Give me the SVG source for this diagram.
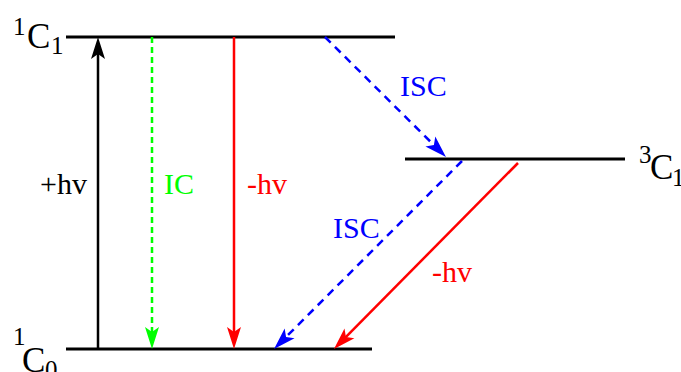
<svg xmlns="http://www.w3.org/2000/svg" width="681" height="372" viewBox="0 0 681 372">
<style>
.lvl{stroke:#000;stroke-width:3;fill:none}
.t{font-family:"Liberation Serif","Times New Roman",serif}
.lbl{font-size:30px}
.big{font-size:35px}
.sup{font-size:25px}
.ar{stroke-width:2.5;fill:none}
</style>
<defs>
<marker id="mk" markerUnits="userSpaceOnUse" orient="auto" refX="0" refY="0" markerWidth="40" markerHeight="40" viewBox="-20 -10 40 20" overflow="visible"><path d="M8,0 L-14,-7 L-9,0 L-14,7 Z" fill="#000"/></marker>
<marker id="mr" markerUnits="userSpaceOnUse" orient="auto" refX="0" refY="0" markerWidth="40" markerHeight="40" viewBox="-20 -10 40 20" overflow="visible"><path d="M8,0 L-14,-7 L-9,0 L-14,7 Z" fill="#f00"/></marker>
<marker id="mg" markerUnits="userSpaceOnUse" orient="auto" refX="0" refY="0" markerWidth="40" markerHeight="40" viewBox="-20 -10 40 20" overflow="visible"><path d="M8,0 L-14,-7 L-9,0 L-14,7 Z" fill="#0f0"/></marker>
<marker id="mb" markerUnits="userSpaceOnUse" orient="auto" refX="0" refY="0" markerWidth="40" markerHeight="40" viewBox="-20 -10 40 20" overflow="visible"><path d="M8,0 L-14,-7 L-9,0 L-14,7 Z" fill="#00f"/></marker>
</defs>
<g id="S1">
<line class="lvl" x1="66" y1="37" x2="395" y2="37"/>
<text class="t" x="13" y="35" font-size="25">1</text>
<text class="t big" x="27" y="48">C</text>
<text class="t sup" x="51" y="54">1</text>
</g>
<g id="S0">
<line class="lvl" x1="66" y1="349" x2="372" y2="349"/>
<text class="t" x="13" y="345" font-size="25">1</text>
<text class="t big" x="22" y="372">C</text>
<text class="t sup" x="45" y="378">0</text>
</g>
<g id="T1">
<line class="lvl" x1="405" y1="159" x2="625" y2="159"/>
<text class="t" x="639" y="163" font-size="25">3</text>
<text class="t big" x="650" y="179">C</text>
<text class="t sup" x="672" y="186">1</text>
</g>
<g id="connectors">
<line class="ar" stroke="#000" x1="98" y1="349" x2="98" y2="45" marker-end="url(#mk)"/>
<line class="ar" stroke="#0f0" stroke-dasharray="6,4" x1="152" y1="37" x2="152" y2="341" marker-end="url(#mg)"/>
<line class="ar" stroke="#f00" x1="234" y1="37" x2="234" y2="341" marker-end="url(#mr)"/>
<line class="ar" stroke="#00f" stroke-dasharray="8,6" x1="325" y1="37" x2="440.3" y2="151.4" marker-end="url(#mb)"/>
<line class="ar" stroke="#00f" stroke-dasharray="8,6" x1="462" y1="161" x2="279.7" y2="343.3" marker-end="url(#mb)"/>
<line class="ar" stroke="#f00" x1="518" y1="163" x2="339.6" y2="343.3" marker-end="url(#mr)"/>
<text class="t lbl" x="40" y="194" fill="#000">+hv</text>
<text class="t lbl" x="164" y="194" fill="#0f0">IC</text>
<text class="t lbl" x="247" y="194" fill="#f00">-hv</text>
<text class="t lbl" x="400" y="96" fill="#00f">ISC</text>
<text class="t lbl" x="333" y="238" fill="#00f">ISC</text>
<text class="t lbl" x="432" y="282" fill="#f00">-hv</text>
</g>
</svg>
